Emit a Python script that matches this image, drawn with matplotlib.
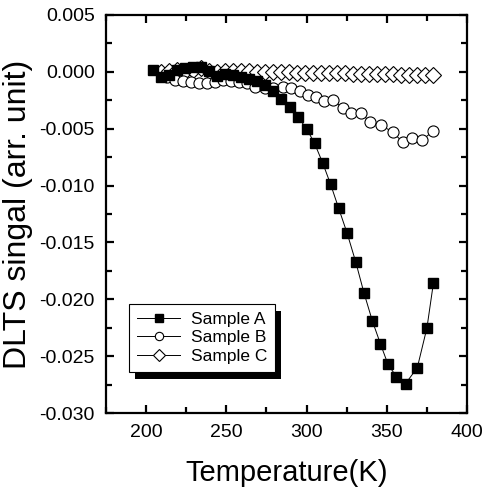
import numpy as np
import matplotlib.pyplot as plt
from matplotlib.patches import Rectangle
from matplotlib.ticker import MultipleLocator

plt.rcParams['font.family'] = ['Liberation Sans', 'DejaVu Sans']

# Sample A
temp_a = [204, 209, 214, 219, 224, 229, 234, 239, 244, 249, 254, 259, 264, 269,
          274, 279, 284, 289.5, 294.7, 300, 305, 310, 315, 320, 325.3, 330.6,
          335.7, 341, 346, 350.7, 356, 361.7, 369, 375, 379]
sig_a = [0.0002, -0.0005, -0.0003, 0.0002, 0.0003, 0.0004, 0.0004, 0.0001,
         -0.0004, -0.0002, -0.0003, -0.0005, -0.0006, -0.0008, -0.0012, -0.0017,
         -0.0024, -0.0031, -0.0040, -0.0050, -0.0063, -0.0080, -0.0099, -0.0120,
         -0.0142, -0.0167, -0.0194, -0.0219, -0.0239, -0.0257, -0.0268, -0.0274,
         -0.0260, -0.0225, -0.0186]

# Sample B
temp_b = [213, 218, 223, 228, 233, 238, 243, 248, 253, 258, 263, 268, 274, 279,
          285, 290.5, 295.7, 301, 306, 311, 316.4, 322.7, 327.8, 334, 339.3,
          346.5, 353.7, 360, 366, 372, 379]
sig_b = [-0.0005, -0.0007, -0.0008, -0.0009, -0.0010, -0.0010, -0.0009, -0.0007,
         -0.0008, -0.0009, -0.0010, -0.0013, -0.0014, -0.0014, -0.0013, -0.0014,
         -0.0017, -0.0020, -0.0022, -0.0026, -0.0025, -0.0032, -0.0036, -0.0036,
         -0.0044, -0.0047, -0.0053, -0.0062, -0.0058, -0.0060, -0.0052]

# Sample C
temp_c = [209, 214, 219, 224, 229, 234, 239, 244, 249, 254, 259, 264, 269, 274,
          279, 284, 289, 294, 299, 304, 309, 314, 319, 324, 329, 334, 339, 344,
          349, 354, 359, 364, 369, 374, 379]
sig_c = [0.0000, 0.0001, 0.0002, 0.0001, 0.0002, 0.0003, 0.0001, 0.0000, 0.0001,
         0.0001, 0.0001, 0.0001, 0.0000, 0.0000, 0.0000, 0.0000, 0.0000, -0.0001,
         -0.0001, -0.0001, -0.0001, -0.0001, -0.0001, -0.0001, -0.0002, -0.0002,
         -0.0002, -0.0002, -0.0002, -0.0002, -0.0003, -0.0003, -0.0003, -0.0003,
         -0.0003]

fig = plt.figure(figsize=(4.84, 4.96), dpi=100)
ax = fig.add_axes([0.219, 0.167, 0.746, 0.803])

ax.plot(temp_c, sig_c, color='black', lw=0.7, marker='D', ms=8,
        mfc='white', mec='black', mew=0.8, label='Sample C', zorder=2)
ax.plot(temp_b, sig_b, color='black', lw=0.7, marker='o', ms=8,
        mfc='white', mec='black', mew=0.8, label='Sample B', zorder=3)
ax.plot(temp_a, sig_a, color='black', lw=0.7, marker='s', ms=7.2,
        mfc='black', mec='black', label='Sample A', zorder=4)

ax.set_xlim(175, 400)
ax.set_ylim(-0.030, 0.005)
ax.xaxis.set_major_locator(MultipleLocator(50))
ax.xaxis.set_minor_locator(MultipleLocator(25))
ax.yaxis.set_major_locator(MultipleLocator(0.005))
ax.yaxis.set_minor_locator(MultipleLocator(0.0025))
ax.set_xticks([200, 250, 300, 350, 400])
ax.yaxis.set_major_formatter(plt.FuncFormatter(lambda v, p: '%.3f' % v))

for s in ax.spines.values():
    s.set_linewidth(1.6)
ax.tick_params(which='both', direction='in', top=True, right=True, width=1.6,
               labelsize=14)
ax.tick_params(which='major', length=6, pad=8)
ax.tick_params(which='minor', length=4)

ax.set_xlabel('Temperature(K)', fontsize=21, labelpad=13)
ax.set_ylabel('DLTS singal (arr. unit)', fontsize=23, labelpad=5)

handles, labels = ax.get_legend_handles_labels()
leg = ax.legend(handles[::-1], labels[::-1], loc='lower left',
                bbox_to_anchor=(0.064, 0.104), borderaxespad=0, fontsize=12.5,
                fancybox=False, edgecolor='black', framealpha=1,
                handlelength=2.5, labelspacing=0.2, borderpad=0.45,
                handletextpad=0.6)
leg.get_frame().set_linewidth(0.8)
leg.set_zorder(6)
for h in leg.legend_handles:
    h.set_markersize(6)

# black drop shadow behind the legend box
fig.canvas.draw()
bb = leg.get_window_extent()
shadow = Rectangle((bb.x0 + 6, bb.y0 - 7), bb.width, bb.height,
                   transform=None, facecolor='black', edgecolor='none',
                   zorder=5.5)
ax.add_artist(shadow)

fig.savefig('out.png', dpi=100)
